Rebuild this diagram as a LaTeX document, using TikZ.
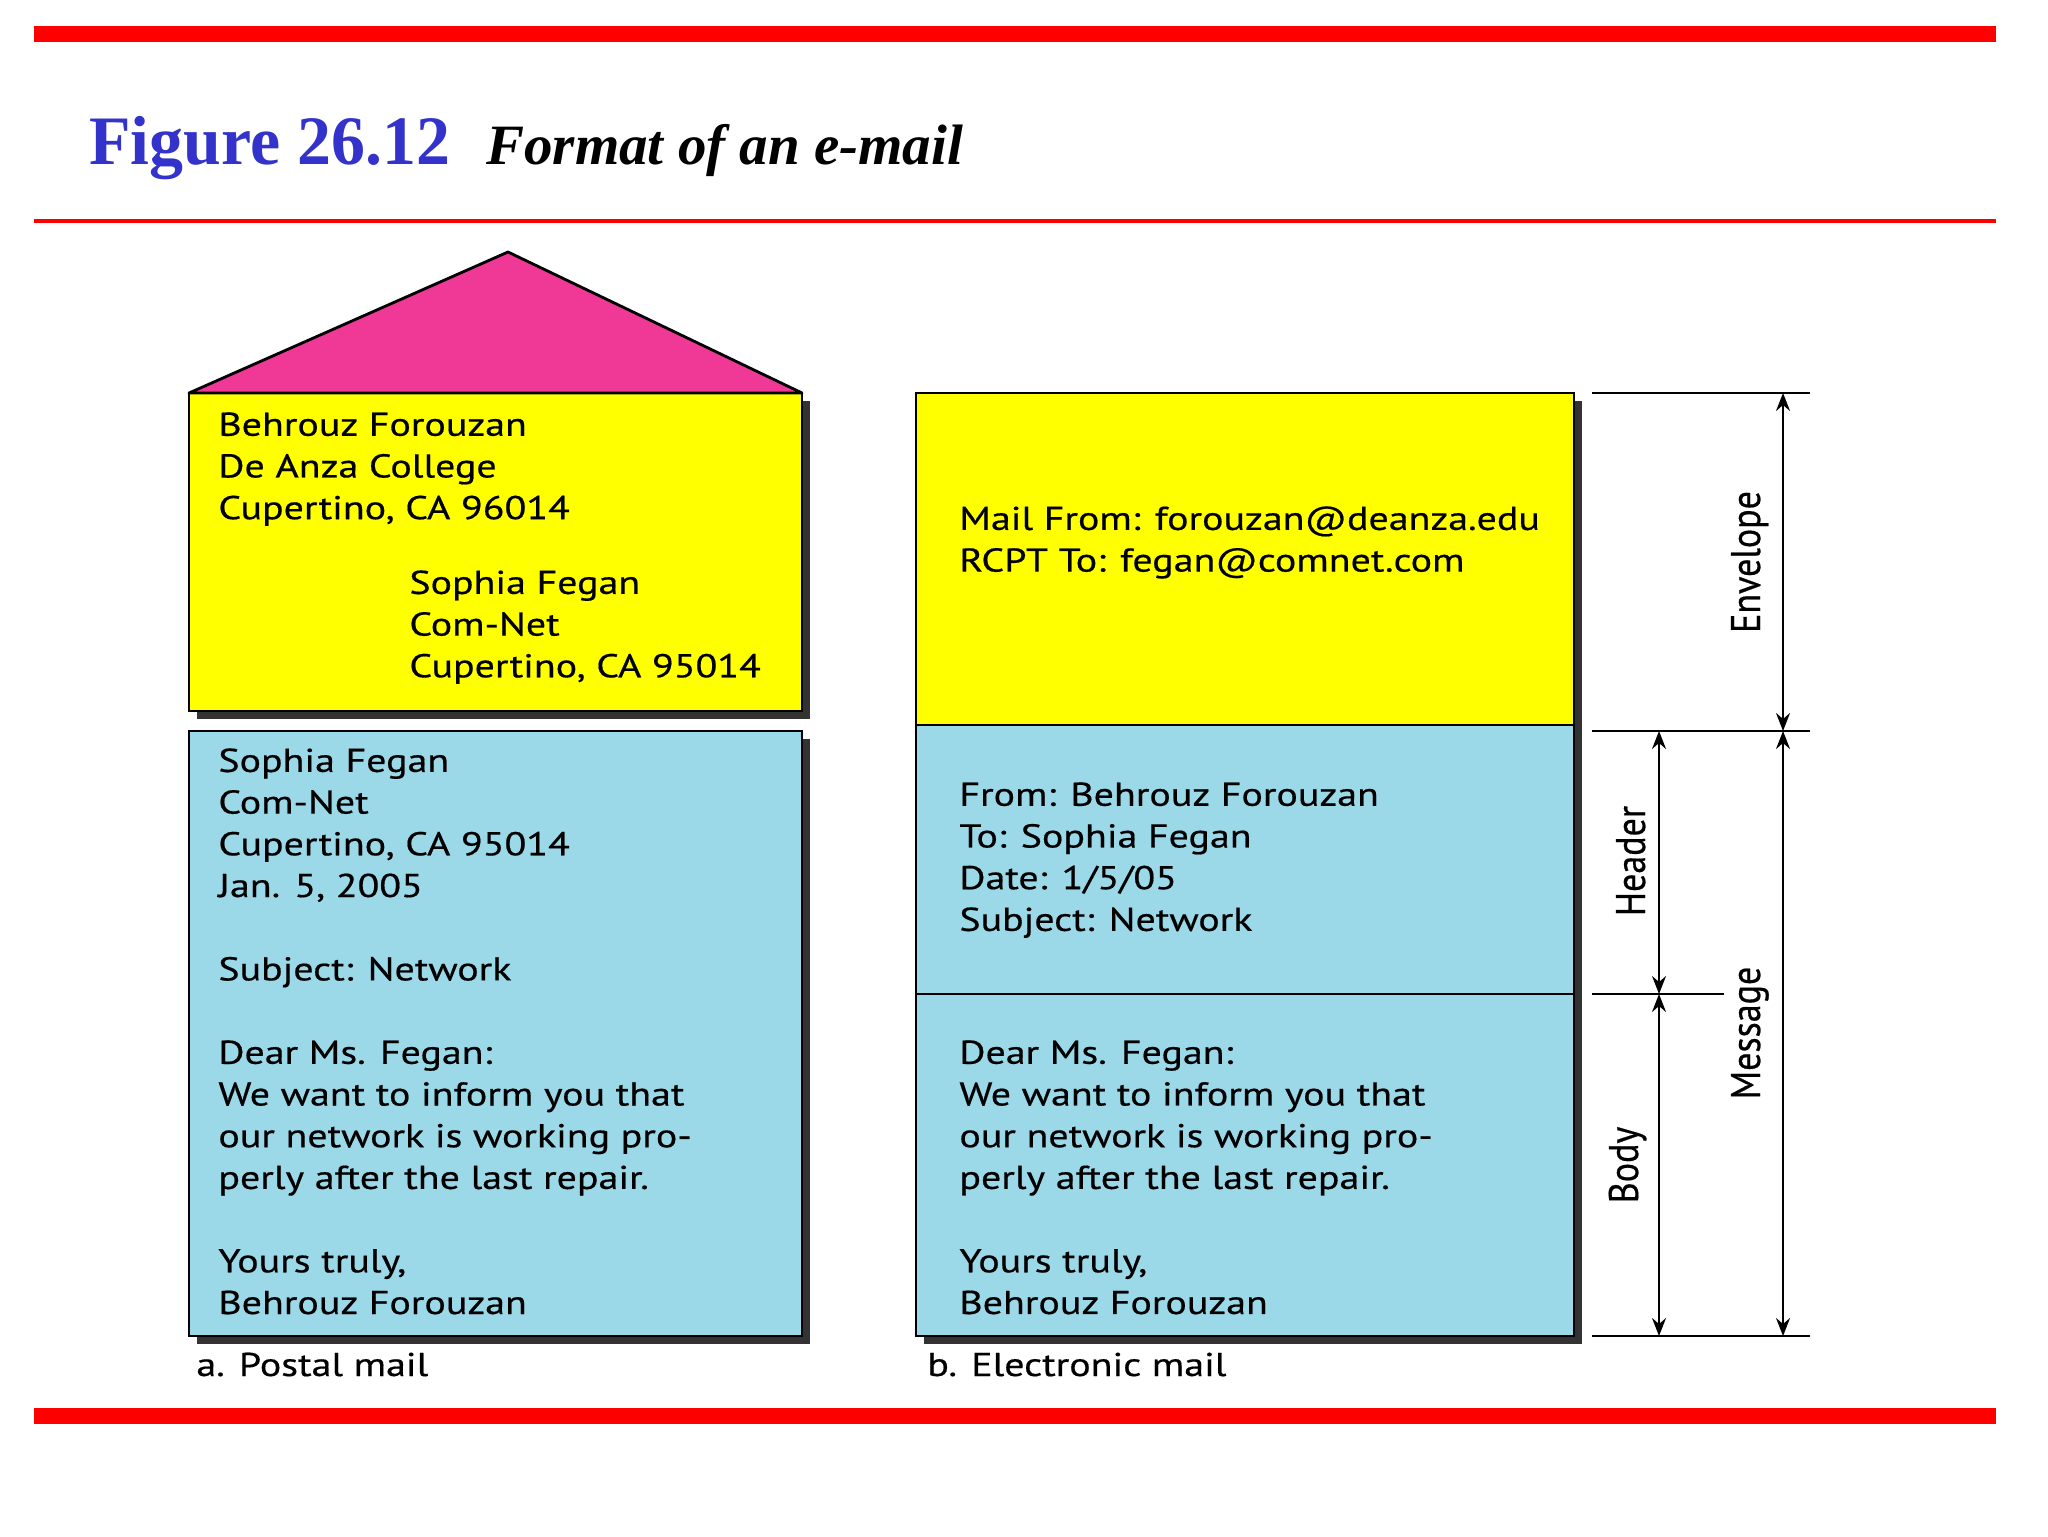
\documentclass[tikz,border=0pt]{standalone}
\usepackage{fontspec}
\setmainfont{Liberation Serif}
\newfontfamily\bodyfont{PT Sans}[FakeStretch=1.21,FakeBold=0.5]
\newfontfamily\labfont{PT Sans}[FakeBold=0.5]
\usetikzlibrary{arrows.meta}
\definecolor{barred}{RGB}{255,0,0}
\definecolor{titleblue}{RGB}{51,51,204}
\definecolor{roofpink}{RGB}{240,56,150}
\definecolor{envyellow}{RGB}{255,255,0}
\definecolor{msgblue}{RGB}{155,216,232}
\definecolor{shadowgray}{RGB}{51,51,51}
\begin{document}
\begin{tikzpicture}[x=0.5pt,y=-0.5pt,
  txt/.style={font={\bodyfont\fontsize{16.5}{20.85}\selectfont}, align=left, inner sep=0pt, anchor=north west},
  sublabel/.style={font={\bodyfont\fontsize{16.5}{20.85}\selectfont}, inner sep=0pt, anchor=base west},
  box/.style={draw=black, line width=1.4pt},
  shadowbox/.style={fill=shadowgray},
  dimtip/.tip={Stealth[length=9pt,width=7pt,inset=3pt]},
  dim/.style={line width=1pt, dimtip-dimtip},
  tickline/.style={line width=1pt},
  vlab/.style={font={\labfont\fontsize{18}{22}\selectfont}, rotate=90, inner sep=0pt, anchor=base},
]
\useasboundingbox (0,0) rectangle (2048,1536);

% red rules
\fill[barred] (34,26) rectangle (1996,42);
\fill[barred] (34,219) rectangle (1996,223);
\fill[barred] (34,1408) rectangle (1996,1424);

% title
\node[anchor=base west, inner sep=0pt, font={\bfseries\fontsize{34.7}{40}\selectfont}, text=titleblue] (fig) at (89,164) {\scalebox{0.978}[1]{Figure 26.12}};
\node[anchor=base west, inner sep=0pt, font={\bfseries\itshape\fontsize{28.5}{32}\selectfont}] (title) at (486,164) {Format of an e-mail};

% shadows
\fill[shadowbox] (197,401) rectangle (810,719);
\fill[shadowbox] (197,739) rectangle (810,1344);
\fill[shadowbox] (924,401) rectangle (1582,1344);

% postal mail
\filldraw[box, fill=envyellow] (189,393) rectangle (802,711);
\filldraw[box, fill=roofpink, line join=round] (189,393) -- (508,252) -- (802,393) -- cycle;
\filldraw[box, fill=msgblue] (189,731) rectangle (802,1336);

% electronic mail
\filldraw[box, fill=envyellow] (916,393) rectangle (1574,725);
\filldraw[box, fill=msgblue] (916,725) rectangle (1574,994);
\filldraw[box, fill=msgblue] (916,994) rectangle (1574,1336);

% texts
\node[txt] (ya) at (218,412) {Behrouz Forouzan\\De Anza College\\Cupertino, CA 96014};
\node[txt] (yb) at (409,570) {Sophia Fegan\\Com-Net\\Cupertino, CA 95014};
\node[txt] (bl) at (218,748) {Sophia Fegan\\Com-Net\\Cupertino, CA 95014\\Jan. 5, 2005\\ \\Subject: Network\\ \\Dear Ms. Fegan:\\We want to inform you that\\our network is working pro-\\perly after the last repair.\\ \\Yours truly,\\Behrouz Forouzan};
\node[txt] (re) at (959,506) {Mail From: forouzan@deanza.edu\\RCPT To: fegan@comnet.com};
\node[txt] (rh) at (959,782) {From: Behrouz Forouzan\\To: Sophia Fegan\\Date: 1/5/05\\Subject: Network};
\node[txt] (rb) at (959,1040) {Dear Ms. Fegan:\\We want to inform you that\\our network is working pro-\\perly after the last repair.\\ \\Yours truly,\\Behrouz Forouzan};

\node[sublabel] (la) at (196,1376) {a. Postal mail};
\node[sublabel] (lb) at (927,1376) {b. Electronic mail};

% dimension lines
\coordinate (t0) at (1592,393); \coordinate (t0e) at (1810,393);
\coordinate (t1) at (1592,731); \coordinate (t1e) at (1810,731);
\coordinate (t2) at (1592,994); \coordinate (t2e) at (1724,994);
\coordinate (t3) at (1592,1336); \coordinate (t3e) at (1810,1336);
\coordinate (eA) at (1783,393); \coordinate (eB) at (1783,731); \coordinate (mB) at (1783,1336);
\coordinate (hA) at (1659,731); \coordinate (hB) at (1659,994); \coordinate (bB) at (1659,1336);
\draw[tickline] (t0) -- (t0e);
\draw[tickline] (t1) -- (t1e);
\draw[tickline] (t2) -- (t2e);
\draw[tickline] (t3) -- (t3e);
\draw[dim] (eA) -- (eB);
\draw[dim] (eB) -- (mB);
\draw[dim] (hA) -- (hB);
\draw[dim] (hB) -- (bB);

\node[vlab] (env) at (1760,562) {\scalebox{1}[1.15]{Envelope}};
\node[vlab] (msg) at (1760,1033) {\scalebox{1}[1.15]{Message}};
\node[vlab] (hdr) at (1645,861) {\scalebox{1}[1.15]{Header}};
\node[vlab] (bdy) at (1638,1165) {\scalebox{1}[1.15]{Body}};
\end{tikzpicture}
\end{document}
